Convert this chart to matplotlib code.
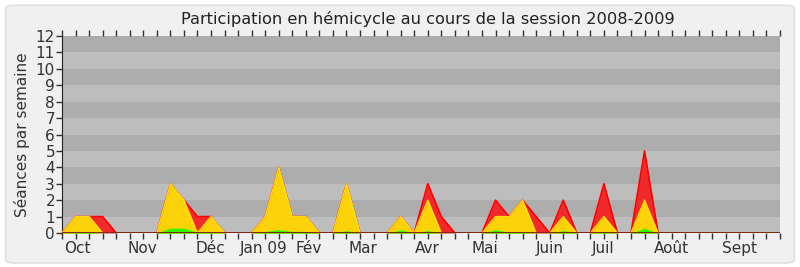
import numpy as np
import matplotlib.pyplot as plt
from matplotlib.patches import FancyBboxPatch
from matplotlib.transforms import blended_transform_factory

# weekly values, session 2008-2009 (54 weeks)
seances = [0, 1, 1, 1, 0, 0, 0, 0, 3, 2, 1, 1, 0, 0, 0, 1, 4, 1, 1, 0,
           0, 3, 0, 0, 0, 1, 0, 3, 1, 0, 0, 0, 2, 1, 2, 1, 0, 2, 0, 0,
           3, 0, 0, 5, 0, 0, 0, 0, 0, 0, 0, 0, 0, 0]
presences = [0, 1, 1, 0, 0, 0, 0, 0, 3, 2, 0, 1, 0, 0, 0, 1, 4, 1, 1, 0,
             0, 3, 0, 0, 0, 1, 0, 2, 0, 0, 0, 0, 1, 1, 2, 0, 0, 1, 0, 0,
             1, 0, 0, 2, 0, 0, 0, 0, 0, 0, 0, 0, 0, 0]
interventions = [0, 0.05, 0.05, 0, 0, 0, 0, 0, 0.3, 0.3, 0.05, 0.05, 0, 0, 0, 0.1, 0.2, 0.1, 0.1, 0,
                 0, 0.15, 0, 0, 0, 0.2, 0, 0.15, 0, 0, 0, 0, 0.2, 0.05, 0.05, 0, 0, 0.15, 0, 0,
                 0.1, 0, 0, 0.3, 0, 0, 0, 0, 0, 0, 0, 0, 0, 0]
months = ["Oct", "Nov", "Déc", "Jan 09", "Fév", "Mar", "Avr", "Mai", "Juin", "Juil", "Août", "Sept"]
month_pos = [1.1, 5.95, 10.95, 14.9, 18.2, 22.2, 26.95, 31.2, 36.0, 39.95, 45.0, 50.0]

weeks = np.arange(len(seances))

fig = plt.figure(figsize=(8, 2.67), dpi=100)
fig.patch.set_facecolor("white")
frame = FancyBboxPatch((0.007, 0.015), 0.986, 0.965, boxstyle="round,pad=0,rounding_size=0.012",
                       transform=fig.transFigure, facecolor="#F0F0F0", edgecolor="#E0E0E0",
                       linewidth=1.2, zorder=-10)
fig.patches.append(frame)

ax = fig.add_axes([0.0775, 0.1273, 0.8975, 0.7377])
ax.set_facecolor("#BDBDBD")
for k in range(1, 12, 2):
    ax.axhspan(k, k + 1, color="#ADADAD", lw=0, zorder=0)

# overlaid areas: sessions (red), presence (yellow), interventions (green)
ax.fill_between(weeks, seances, color="#F02A2A", lw=0, zorder=2)
ax.plot(weeks, seances, color="#FF0000", lw=1.2, zorder=3)
ax.fill_between(weeks, presences, color="#FCD20A", lw=0, zorder=4)
ax.plot(weeks, presences, color="#FFE010", lw=1.0, zorder=5)
ax.fill_between(weeks, interventions, color="#33F500", lw=0, zorder=6)
ax.axhline(0, color="#6A1010", lw=1.2, zorder=7)

ax.set_xlim(0, len(seances) - 1)
ax.set_ylim(0, 12)
ax.set_yticks(range(0, 13))
ax.set_xticks(weeks)
ax.set_xticklabels([])
ax.tick_params(axis="x", direction="out", length=4, width=1, color="#333333", top=True)
ax.tick_params(axis="y", direction="out", length=4, width=1, color="#333333",
               labelsize=11, labelcolor="#333333", pad=1)
trans = blended_transform_factory(ax.transData, ax.transAxes)
for pos, name in zip(month_pos, months):
    ax.text(pos, -0.04, name, transform=trans, ha="center", va="top",
            fontsize=11, color="#333333")
for s in ["top", "right", "bottom"]:
    ax.spines[s].set_visible(False)
ax.spines["left"].set_color("#222222")

ax.set_ylabel("Séances par semaine", fontsize=11, color="#333333", labelpad=4)
fig.text(0.535, 0.93, "Participation en hémicycle au cours de la session 2008-2009",
         fontsize=11.7, color="#222222", ha="center", va="center")

fig.savefig("out.png", dpi=100, facecolor=fig.get_facecolor())
